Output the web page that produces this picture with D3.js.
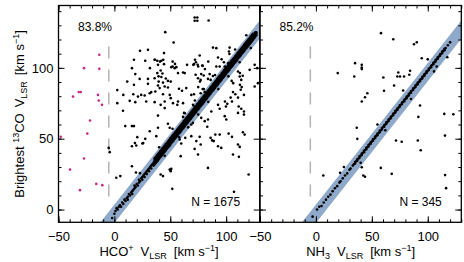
<!DOCTYPE html>
<html>
<head>
<meta charset="utf-8">
<script src="https://cdn.jsdelivr.net/npm/d3@7"></script>
<style>
  body { margin: 0; background: #fff; }
  svg { display: block; font-family: "Liberation Sans", Arial, sans-serif; }
</style>
</head>
<body>
<div id="chart"></div>
<script>
// axis ticks
const xMajor = [-50, 0, 50, 100];
const yMajor = [0, 50, 100];
const xMinor = [-50, -40, -30, -20, -10, 0, 10, 20, 30, 40, 50, 60, 70, 80, 90, 100, 110, 120, 130];
const yMinor = [0, 10, 20, 30, 40, 50, 60, 70, 80, 90, 100, 110, 120, 130, 140];

const panelPercent = ["83.8%", "85.2%"];
const panelCount = ["N = 1675", "N = 345"];

// one-to-one band and velocity cut, km/s
const bandOffset = -3;
const bandHalfWidth = 6.5;
const cutVelocity = -5;
const cutRange = [7, 115];

// HCO+ panel: [x, y] points away from the band
const hcoScatter = [
  [22.9,112],[30,112.7],[17.5,105.7],[27.6,105],[36,105.7],[15.7,99.8],[31.8,99.8],[38.4,96.3],[18.7,95.6],
  [22.6,92.2],[30,92.2],[36,92.7],[11.5,90.3],[17.5,88],[30,88.7],[39,87.5],[2.6,84.3],[8,80.9],[16.9,81.4],
  [21.1,79.7],[24,80.9],[27.1,80.5],[31.6,82.1],[33,82.9],[36.6,83.3],[2.6,75.1],[13.7,76.7],[18.7,75.8],
  [28.5,76.2],[36,75.8],[7.7,69.7],
  [71.8,135.5],[74.2,135.5],[71.8,133.2],[74.2,133.2],[84.3,133.4],[45.5,125.2],[53,117.9],[88.2,114.3],
  [91.2,113.9],[103.1,114.3],[102.5,111.5],[102.9,109.8],[76.3,108.7],[42,105],[44.4,102.6],[39,102.1],
  [50.9,100.5],[53.9,99.8],[55.4,100.5],[65,102.1],[71.2,102.6],[78.6,101.6],[92.7,107.3],[95.9,106.1],
  [91.2,100.9],[94.2,100.9],[98.7,100.9],[41.4,98.1],[43,96],[39.5,94],[42,93.5],[46,92.5],[56.9,96.3],
  [61.4,96.7],[62.9,96.3],[72.7,95.1],[77.7,95.6],[79.9,94.6],[85.2,95.6],[88.2,94.2],[74.8,92.7],[77.2,91.5],
  [83.7,92.2],[86.1,91.5],[39.6,90.3],[43.5,89.6],[47.9,90.8],[50.4,90.3],[45,86.8],[47.9,86.1],[40.5,85.7],
  [57.8,85.2],[60.5,83.8],[64.3,85.7],[68.8,80.9],[71.2,81.4],[77.2,82.1],[80.8,82.9],[106.1,82.9],[108.2,81.4],
  [110.6,79],[115.9,80.9],[43.5,81.4],[45,76.2],[49.5,80.9],[50.4,78.6],[52.4,75.1],[56.3,73.9],[56.9,76.2],
  [61.4,75.1],[41.4,73.9],[45,71.6],[70.3,73.9],[71.8,72.7],[86.7,69.2],[92.7,73.9],[94.2,71.1],[104,79],
  [105.2,76.2],[111.2,72.7],[113.5,71.1],[115.9,69.2],[125.5,102.1],[127.8,99.8],[121,98.6],[110.6,97.4],
  [112.1,93.9],[113.5,91.5],[128.4,89.2],[125.5,86.8],[44.4,110.4],[36.3,105.7],[38.4,105],[40.8,104.4],
  [43.7,105.7],[52.1,104.4],[54.2,102.8],[52.1,100.9],[72.1,105.7],[73,104],[70.6,102.1],[74.5,102.1],
  [75,100.9],[79,101.4],[81,99.1],[84,104.4],[101.9,103.3],[112.3,96.3],[114.8,94.4],[104.9,90.8],
  [106.3,89.2],[112.3,88],[113.9,86.4],[113,84.5],[76.6,90.3],[75,86.4],[79,85],[98.9,76.2],[101,74.6],[99.8,72.7],
  [39,66.3],[9.7,58.9],[15.7,58.9],[17.5,58.9],[31.6,55.3],[39,57.7],[20.5,51.1],[27.6,49.9],[37.5,51.8],
  [15.7,44.7],[19.6,45.2],[25,46.6],[-5.1,43.5],[-4.2,40.5],[15.7,30.6],[1.7,22.4],[5.3,23.6],[19.3,26.1],
  [22.9,25.7],[18.4,46.9],[25.8,46.9],
  [47.9,60.5],[49.5,57.7],[62.3,68.2],[61.4,65.4],[64.3,62.4],[68.8,60],[70.3,61.2],[77.7,64.7],[80.8,62.4],
  [83.7,63.5],[83.1,58.4],[98.7,65.9],[100.1,63.5],[110.6,68.2],[115.9,67],[94.2,52.9],[90.3,52.9],[86.1,50.6],
  [102.2,53.6],[105.2,51.3],[115,54.6],[116.5,52.9],[68.8,51.8],[63.4,50.6],[58.4,49.4],[59.8,46.6],[76.3,51.3],
  [73.3,48.3],[77.2,45.9],[92.7,44.7],[95.6,43.5],[110.6,45.9],[112.1,44.2],[87.5,48.8],[88.9,48.3],[71.8,42.8],
  [74.8,38.8],[59.3,37.7],[106.1,38.8],[111.4,37.2],[83.7,29.4],[49.5,28.2],[50.4,27.1],[50.9,28.7],[41.4,24.7],
  [43.5,23.6],[120.1,24.7],[51.8,14.6],[107,12.5]
];

// HCO+ panel: points left of the velocity cut (magenta)
const hcoRejected = [
  [-13.5,109.2],[-27.2,99.8],[-13.5,99.3],[-31.9,82.9],[-30.1,82.9],[-37,79.7],[-14.7,80.9],[-14,76.9],
  [-11.1,73.9],[-21.8,62.8],[-48,51.3],[-24.2,53.6],[-27.2,36],[-39.7,28.2],[-16.2,18.1],[-10.8,17.2],[-30.8,13.7]
];

// HCO+ panel: points along the band, [x, y, y, ...]
const hcoBand = [
  [-2,-6],[0,-3],[1,-1],[2,1],[3,0],[4,2],[5,3],[6,2],[7,5],[8,4],[9,7],[10,6],[11,8],[12,9,7],[13,11],[14,10],
  [15,12],[16,13,11],[17,14],[18,15,17],[19,16],[20,18],[21,17],[22,19,21],[23,20],[24,22],[25,21,23],[26,24],
  [27,23,25],[28,26],[29,25,27],[30,28],[31,27,29],[32,30],[33,29,31],[34,32],[35,31,33],
  [36,31.8,33,34.1,35,36.2],[37,32.9,34,35,36.1,37.1],[38,33.8,35.1,36,37,38.2],[39,34.7,36,37.1,38,39.2],
  [40,35.8,37,38,39.1,40.1],[41,36.9,38,39.1,40,41.2],[42,37.8,39.1,40,41.1,42.1],[43,38.7,40,41,42.2,43.2],
  [44,39.9,41,42.1,43,44.1],[45,40.8,42.1,43,44.1,45.2],[46,41.7,43,44,45,46.2],[47,42.9,44,45.1,46.1,47],
  [48,43.8,45.1,46,47,48.2],[49,44.7,46,47.1,48.1,49.1],[50,45.8,47,48,49,50.2],[51,46.9,48.1,49,50.1,51.1],
  [52,47.8,49,50.1,51,52.2],[53,48.7,50,51,52.1,53.1],[54,49.9,51.1,52,53,54.2],[55,50.8,52,53.1,54.1,55],
  [56,51.7,53,54,55,56.2],[57,52.9,54.1,55,56.1,57.1],[58,53.8,55,56.1,57,58.2],[59,54.7,56,57,58.1,59.1],
  [60,55.8,57.1,58,59,60.2],[61,56.9,58,59.1,60.1,61],[62,57.8,59,60,61,62.2],[63,58.7,60.1,61,62.1,63.1],
  [64,59.9,61,62.1,63,64.2],[65,60.8,62,63,64.1,65.1],[66,61.7,63.1,64,65,66.2],[67,62.9,64,65.1,66.1,67],
  [68,63.8,65,66,67,68.2],[69,64.7,66.1,67.1,68,69.1],[70,65.8,67,68,69.1,70.2],[71,66.9,68,69,70,71.1],
  [72,67.8,69.1,70.1,71.1,72.2],[73,68.7,70,71,72,73.1],[74,69.9,71,72.1,73.1,74.2],[75,70.8,72.1,73,74,75],
  [76,71.7,73,74,75.1,76.2],[77,72.9,74,75.1,76,77.1],[78,73.8,75.1,76,77.1,78.2],[79,74.7,76,77,78,79.1],
  [80,75.8,77,78.1,79,80.2],[81,76.9,78.1,79,80.1,81],[82,77.8,79,80,81,82.2],[83,78.7,80,81.1,82.1,83.1],
  [84,79.9,81.1,82,83,84.2],[85,80.8,82,83,84.1,85.1],[86,81.7,83,84.1,85,86.2],[87,82.9,84.1,85,86.1,87],
  [88,83.8,85,86,87,88.2],[89,84.7,86,87.1,88.1,89.1],[90,85.8,87.1,88,89,90.2],[91,86.9,88,89,90.1,91.1],
  [92,87.8,89,90.1,91,92.2],[93,88.7,90.1,91,92,93.1],[94,89.9,91,92,93.1,94.2],[95,90.8,92,93.1,94,95],
  [96,91.7,93.1,94,95,96.2],[97,92.9,94,95,96.1,97.1],[98,93.8,95,96.1,97,98.2],[99,94.7,96.1,97,98,99.1],
  [100,95.8,97,98,99.1,100.2],[101,96.9,98,99.1,100,101],[102,97.8,99.1,100,101.1,102.2],[103,98.7,100,101,102,103.1],
  [104,99.9,101,102.1,103,104.2],[105,100.8,102.1,103,104.1,105.1],[106,101.7,103,104,105,106.2],
  [107,102.9,104,105.1,106.1,107],[108,103.8,105.1,106,107,108.2],[109,104.7,106,107,108.1,109.1],
  [110,105.8,107,108.1,109,110.2],[111,106.9,108.1,109,110,111.1],[112,107.8,109,110,111.1,112.2],
  [113,108.7,110,111.1,112,113.1],[114,109.9,111.1,112,113,114.2],[115,110.8,112,113,114.1,115],
  [116,111.7,113,114.1,115,116.2],[117,112.9,114.1,115,116,117.1],[118,113.8,115,116,117.1,118.2],
  [119,114.7,116,117.1,118,119.1],[120,115.8,117.1,118,119,120.2],[121,116.9,118,119,120.1,121],
  [122,117.8,119,120.1,121,122.2],[123,118.7,120.1,121,122,123.1],[124,119.9,121,122,123.1,124],
  [125,120.8,122,123.1,124],[126,122,123,124.1,125],[127,123,124.2,125],
  [40,44],[45,38],[52,57],[58,51],[63,68],[66,58],[72,77],[75,67],[80,85],[84,76],[90,95],[93,85],
  [98,104],[102,94],[108,113],[112,104],[118,123],[122,114]
];

// NH3 panel
const nh3Scatter = [
  [19.5,96.3],[35,103.3],[41,102.1],[41,100.2],[41,99.1],[34.3,93.9],[58.2,124.5],[69.2,120.2],[87.7,116.7],
  [90.2,118.1],[94.6,106.8],[117.5,107.5],[60.3,93.2],[73.7,96.7],[72.8,93.9],[75.2,93.9],[78.8,93.9],[84.2,97.9],
  [83.5,95.1],[69.9,87.5],[60.9,83.8],[46,82.1],[43.9,79.3],[41,76.2],[93.1,73.4],[122.9,67.3],[36.5,57.7],
  [37,49.9],[91.6,65.4],[114.8,67.5],[115.4,52.2],[71.6,48.7],[76.7,47.8],[91.1,48.7],[93.7,41.9],[41,29.9],
  [42.4,24],[43.9,23.1],[58,29.4],[67.8,25.2],[115.5,24.3],[116.4,15.1],[6.6,24],[105.6,97.5]
];

const nh3Band = [
  [-3,-5],[1,0],[3,2],[5,2.5],[7,5],[9,7],[11,9],[13,10.5],[15,13],[17,15],[19,16.5],[21,19],[22,20],[24,22],
  [26,24],[28,25.5],[30,28],[31,29],[33,31],[34,32],
  [35,32.5,33.5],[36,34],[37,34.5,35.5],[38,36],[39,36.5,37.5],[40,38],[41,38.5,39.5],[42,40],[43,40.5,41.5],
  [44,42],[45,42.5,43.5],[46,44],[47,44.5,45.5],[48,46],[49,46.5,47.5],[50,48],[51,48.5,49.5],[52,50],
  [53,50.5,51.5],[54,52],[55,52.5,53.5],[56,54],[57,54.5,55.5],[58,56],[59,56.5,57.5],[60,58],[61,58.5,59.5],
  [62,60],[63,60.5,61.5],[64,62],[65,62.5,63.5],[66,64],[67,64.5,65.5],[68,66],[69,66.5,67.5],[70,68],
  [71,68.5,69.5],[72,70],[73,70.5,71.5],[74,72],[75,72.5,73.5],[76,74],[77,74.5,75.5],[78,76],[79,76.5,77.5],
  [80,78],[81,78.5,79.5],[82,80],[83,80.5,81.5],[84,82],[85,82.5,83.5],[86,84],[87,84.5,85.5],[88,86],
  [89,86.5,87.5],[90,88],[91,88.5,89.5],[92,90],[93,90.5,91.5],[94,92],[95,92.5,93.5],[96,94],[97,94.5,95.5],
  [98,96],[99,96.5,97.5],[100,98],[101,98.5,99.5],[102,100],[103,100.5,101.5],[104,102],[105,102.5,103.5],
  [106,104],[107,104.5,105.5],[108,106],[109,106.5,107.5],[110,108],[111,108.5,109.5],[112,110],[113,110.5,111.5],
  [114,112],[115,112.5,113.5],[116,114],[118,116],[120,118],
  [25,30],[40,33],[55,60],[62,56],[78,84],[85,78],[100,106],[108,101],[21.6,25.9]
];

const {select} = d3;
const W = 464, H = 262;
const svg = select("#chart").append("svg").attr("width", W).attr("height", H);
const y = d3.scaleLinear().domain([-9, 144]).range([222.3, 5.5]);
const yTop = y.range()[1], yBottom = y.range()[0];

const flatBand = (rows) => rows.flatMap(([x, ...ys]) => ys.map(v => [x, v]));

// label with sub/superscripts: [text, {size, dx, dy}]
const richText = (t, parts) => {
  parts.forEach(([s, o]) => {
    o = o || {};
    t.append("tspan").text(s)
      .attr("font-size", o.size || null)
      .attr("dx", o.dx || null)
      .attr("dy", o.dy || null);
  });
  return t;
};

class Panel
{
  constructor(props)
  {
    this.state = Object.assign({ tickMajor: 6, tickMinor: 3, dot: 1.3 }, props);
  }
  draw(root, i)
  {
    const { x, scatter, band, rejected, yLabels, rightMinor, percent, count, xTitle } = this.state;
    const { tickMajor, tickMinor, dot } = this.state;
    const [x0, x1] = x.range();
    const g = root.append("g");

    const clipId = "clip" + i;
    g.append("clipPath").attr("id", clipId)
      .append("rect").attr("x", x0).attr("y", yTop).attr("width", x1 - x0).attr("height", yBottom - yTop);

    const lo = x.domain()[0], hi = x.domain()[1];
    const bandPoly = [
      [lo, lo + bandOffset + bandHalfWidth], [hi, hi + bandOffset + bandHalfWidth],
      [hi, hi + bandOffset - bandHalfWidth], [lo, lo + bandOffset - bandHalfWidth]
    ];
    g.append("path").attr("clip-path", `url(#${clipId})`)
      .attr("d", d3.line().x(d => x(d[0])).y(d => y(d[1]))(bandPoly) + "Z")
      .attr("fill", "#8ea9ca");

    g.append("line")
      .attr("x1", x(cutVelocity)).attr("x2", x(cutVelocity))
      .attr("y1", y(cutRange[1])).attr("y2", y(cutRange[0]))
      .attr("stroke", "#b3b3b3").attr("stroke-width", 1.5).attr("stroke-dasharray", "12,11");

    const pts = g.append("g").attr("clip-path", `url(#${clipId})`);
    pts.selectAll("circle.pt").data(scatter.concat(flatBand(band))).join("circle").attr("class", "pt")
      .attr("cx", d => x(d[0])).attr("cy", d => y(d[1])).attr("r", dot).attr("fill", "#000");
    pts.selectAll("circle.rej").data(rejected).join("circle").attr("class", "rej")
      .attr("cx", d => x(d[0])).attr("cy", d => y(d[1])).attr("r", dot).attr("fill", "#c42a84");

    const axes = [
      [d3.axisBottom(x).tickValues(xMinor).tickSize(-tickMinor), yBottom, false],
      [d3.axisBottom(x).tickValues(xMajor).tickSize(-tickMajor).tickPadding(9), yBottom, true],
      [d3.axisTop(x).tickValues(xMinor).tickSize(-tickMinor), yTop, false],
      [d3.axisTop(x).tickValues(xMajor).tickSize(-tickMajor), yTop, false]
    ];
    axes.forEach(([gen, ty, lab]) => {
      const a = g.append("g").attr("transform", `translate(0,${ty})`)
        .call(lab ? gen.tickFormat(d3.format("d")) : gen.tickFormat(""));
      a.select(".domain").remove();
    });

    const yAxes = [
      [d3.axisLeft(y).tickValues(yMinor).tickSize(-tickMinor), x0, false],
      [d3.axisLeft(y).tickValues(yMajor).tickSize(-tickMajor).tickPadding(5), x0, yLabels],
      [d3.axisRight(y).tickValues(yMajor).tickSize(-tickMajor), x1, false]
    ];
    if (rightMinor) yAxes.push([d3.axisRight(y).tickValues(yMinor).tickSize(-tickMinor), x1, false]);
    yAxes.forEach(([gen, tx, lab]) => {
      const a = g.append("g").attr("transform", `translate(${tx},0)`)
        .call(lab ? gen.tickFormat(d3.format("d")) : gen.tickFormat(""));
      a.select(".domain").remove();
    });

    g.selectAll(".tick line").attr("stroke", "#000").attr("stroke-width", 1);
    g.selectAll("g").attr("font-family", null).attr("font-size", null);
    g.selectAll(".tick text").attr("font-size", 13).attr("fill", "#000");

    g.append("rect").attr("x", x0).attr("y", yTop).attr("width", x1 - x0).attr("height", yBottom - yTop)
      .attr("fill", "none").attr("stroke", "#000").attr("stroke-width", 1.3);

    g.append("text").attr("x", x0 + 19.5).attr("y", 31).attr("font-size", 12).text(percent);
    g.append("text").attr("x", x1 - 19.5).attr("y", 206).attr("font-size", 12)
      .attr("text-anchor", "end").text(count);

    const t = g.append("text").attr("x", (x0 + x1) / 2).attr("y", 256)
      .attr("font-size", 13).attr("text-anchor", "middle");
    richText(t, xTitle);
  }
}

const panels = [
  new Panel({
    x: d3.scaleLinear().domain([-50, 130]).range([58.5, 259.7]),
    scatter: hcoScatter, band: hcoBand, rejected: hcoRejected,
    yLabels: true, rightMinor: false,
    percent: panelPercent[0], count: panelCount[0],
    xTitle: [["HCO"], ["+", { size: 9, dy: -5 }], ["V", { dx: 7, dy: 5 }], ["LSR", { size: 9, dy: 3 }],
      ["[km s", { dx: 7, dy: -3 }], ["\u22121", { size: 9, dy: -5 }], ["]", { dy: 5 }]]
  }),
  new Panel({
    x: d3.scaleLinear().domain([-50, 130]).range([260, 461.3]),
    scatter: nh3Scatter, band: nh3Band, rejected: [],
    yLabels: false, rightMinor: true,
    percent: panelPercent[1], count: panelCount[1],
    xTitle: [["NH"], ["3", { size: 9, dy: 3 }], ["V", { dx: 7, dy: -3 }], ["LSR", { size: 9, dy: 3 }],
      ["[km s", { dx: 7, dy: -3 }], ["\u22121", { size: 9, dy: -5 }], ["]", { dy: 5 }]]
  })
];
panels.forEach((p, i) => p.draw(svg, i));

const yt = svg.append("text").attr("transform", "translate(24,114) rotate(-90)")
  .attr("font-size", 13).attr("text-anchor", "middle");
richText(yt, [["Brightest "], ["13", { size: 9, dy: -5 }], ["CO", { dy: 5 }], ["V", { dx: 6 }],
  ["LSR", { size: 9, dy: 3 }], ["[km s", { dx: 6, dy: -3 }], ["\u22121", { size: 9, dy: -5 }], ["]", { dy: 5 }]]);
</script>
</body>
</html>
